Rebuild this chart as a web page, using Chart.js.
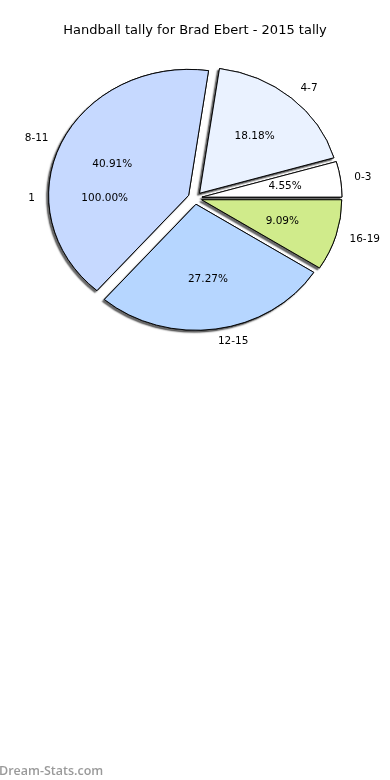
<!DOCTYPE html>
<html>
<head>
<meta charset="utf-8">
<script src="https://cdn.jsdelivr.net/npm/chart.js@4.4.1/dist/chart.umd.min.js"></script>
<style>
  html, body { margin: 0; padding: 0; background: #fff; }
  canvas { display: block; }
</style>
</head>
<body>
<canvas id="pie" width="390" height="780"></canvas>
<script>
// Handball tally pie
const categories = ['0-3', '4-7', '8-11', '12-15', '16-19'];
const tallies = [1, 4, 9, 6, 2];
const sliceColors = ['#ffffff', '#eaf2ff', '#c6d9ff', '#b6d6ff', '#d0eb8b'];

// second single-slice pie that sits underneath (label "1", 100%)
const overlayLabels = ['1'];
const overlayValues = [1];

const titleText = 'Handball tally for Brad Ebert - 2015 tally';

const RADIUS = 140;
const EXPLODE = 7;      // px, along mid angle
const Y_SQUASH = 0.9;   // pie is drawn slightly flattened
const LABEL_FONT = '10.5px "DejaVu Sans"';

function pct(v, arr) {
  const total = arr.reduce((a, b) => a + b, 0);
  return (v / total * 100).toFixed(2) + '%';
}

// chart.js runs clockwise from east with rotation 90, matplotlib ran counter-clockwise
const order = categories.map((_, i) => i).reverse();

// chart.js' own offset also grows the radius, so the explode is done here instead
function drawExploded(ctx, arcs) {
  arcs.forEach(a => {
    const mid = (a.startAngle + a.endAngle) / 2;
    ctx.save();
    ctx.translate(Math.cos(mid) * EXPLODE, Math.sin(mid) * EXPLODE);
    a.draw(ctx);
    ctx.restore();
  });
}

const ellipsePlugin = {
  id: 'ellipse',
  beforeDatasetsDraw(chart) {
    const ctx = chart.ctx;
    const arcs = chart.getDatasetMeta(0).data;
    const cx = arcs[0].x, cy = arcs[0].y;
    ctx.save();
    ctx.translate(cx, cy);
    ctx.scale(1, Y_SQUASH);
    ctx.translate(-cx, -cy);
    // shadow pass first, then the plain slices on top
    ctx.save();
    ctx.shadowColor = 'rgba(0,0,0,0.6)';
    ctx.shadowOffsetX = -2;
    ctx.shadowOffsetY = 2;
    ctx.shadowBlur = 1.5;
    drawExploded(ctx, arcs);
    ctx.restore();
    drawExploded(ctx, arcs);
    ctx.restore();
    return false;
  },
  afterDraw(chart) {
    const ctx = chart.ctx;
    const arcs = chart.getDatasetMeta(0).data;
    const cx = arcs[0].x, cy = arcs[0].y;
    ctx.save();
    ctx.fillStyle = '#000';
    ctx.font = LABEL_FONT;
    ctx.textBaseline = 'middle';

    const put = (text, ang, dist, off, align) => {
      const x = cx + (off + dist) * Math.cos(ang);
      const y = cy + (off + dist) * Math.sin(ang) * Y_SQUASH;
      ctx.textAlign = align || 'center';
      ctx.fillText(text, x, y);
    };

    arcs.forEach((arc, j) => {
      const i = order[j];
      const mid = (arc.startAngle + arc.endAngle) / 2;
      const side = Math.cos(mid) >= 0 ? 'left' : 'right';
      put(categories[i], mid, arc.outerRadius * 1.1, EXPLODE, side);
      put(pct(tallies[i], tallies), mid, arc.outerRadius * 0.6, EXPLODE, 'center');
    });

    // the underlying full pie: one slice, label sits at its middle (west)
    const r2 = RADIUS * 1.04;
    overlayLabels.forEach((lab, k) => {
      put(lab, Math.PI, r2 * 1.1, 0, 'right');
      put(pct(overlayValues[k], overlayValues), Math.PI, r2 * 0.62, 0, 'center');
    });

    // watermark
    ctx.font = '600 12.5px "Open Sans"';
    ctx.fillStyle = '#9a9a9a';
    ctx.textAlign = 'left';
    ctx.textBaseline = 'alphabetic';
    ctx.fillText('Dream-Stats.com', -1, 775);
    ctx.restore();
  }
};

new Chart(document.getElementById('pie'), {
  type: 'pie',
  data: {
    labels: order.map(i => categories[i]),
    datasets: [{
      data: order.map(i => tallies[i]),
      backgroundColor: order.map(i => sliceColors[i]),
      borderColor: '#000',
      borderWidth: 1,
      offset: 0,
      hoverOffset: 0,
      clip: false
    }]
  },
  options: {
    responsive: false,
    animation: false,
    events: [],
    rotation: 90,
    radius: RADIUS,
    layout: { padding: { top: 23, bottom: 444, left: 0, right: 0 } },
    plugins: {
      legend: { display: false },
      tooltip: { enabled: false },
      title: {
        display: true,
        text: titleText,
        color: '#000',
        font: { family: 'DejaVu Sans', size: 13, weight: 'normal', lineHeight: 1.2 },
        padding: { top: 0, bottom: 21.4 }
      }
    }
  },
  plugins: [ellipsePlugin]
});
</script>
</body>
</html>
